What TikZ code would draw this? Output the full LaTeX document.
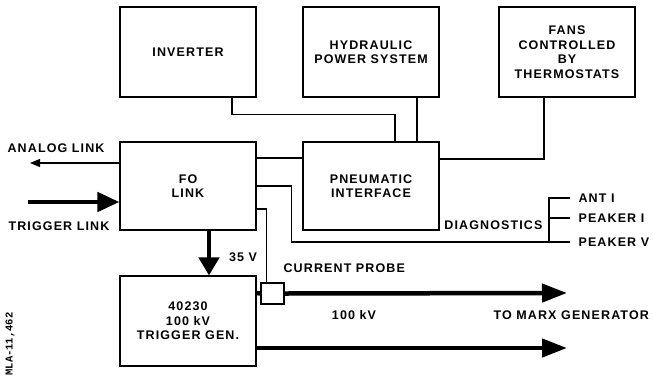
\documentclass[tikz,border=0pt]{standalone}
\usepackage{fontspec}
\setmainfont{Liberation Sans}[LetterSpace=9]
\setmonofont{Liberation Mono}
\usetikzlibrary{arrows.meta}

\tikzset{
	block/.style={draw, rectangle, minimum width=136pt, minimum height=90pt, align=center, font=\bfseries\fontsize{12.5}{14.5}\selectfont},
	beschr/.style={inner sep=0pt, font=\bfseries\fontsize{12.5}{14.5}\selectfont},
	dick/.style={line width=4.5pt},
}

\begin{document}
\begin{tikzpicture}[x=1pt, y=-1pt, line width=1.1pt]
	\useasboundingbox (0,0) rectangle (654,376);
	
	% obere Reihe
	\node (inv) [block] at (188,52) {INVERTER};
	\node (hyd) [block] at (371,52) {HYDRAULIC\\POWER SYSTEM};
	\node (fans) [block] at (567,52) {FANS\\CONTROLLED\\BY\\THERMOSTATS};
	
	% mittlere Reihe
	\node (fo) [block, minimum height=88pt] at (188,186) {FO\\LINK};
	\node (pneu) [block, minimum height=88pt] at (371,186) {PNEUMATIC\\INTERFACE};
	
	% Trigger-Generator und Stromsonde
	\node (gen) [block] at (188,321) {40230\\100 kV\\TRIGGER GEN.};
	\node (probe) [draw, rectangle, minimum width=23pt, minimum height=21pt, inner sep=0pt] at (272.5,293.5) {};
	
	% Verbindungen oben
	\draw ([xshift=44pt]inv.south) |- ++(0,17) -| ([xshift=24pt]pneu.north);
	\draw ([xshift=46pt]hyd.south) -- ([xshift=46pt]pneu.north);
	\draw ([xshift=-23pt]fans.south) |- ([yshift=27pt]pneu.east);
	\draw ([yshift=28pt]fo.east) -- ([yshift=28pt]pneu.west);
	
	% Links
	\coordinate (analog) at (30,163);
	\coordinate (trig) at (28,202);
	\node (analogtxt) [beschr, anchor=west] at (7,148) {ANALOG LINK};
	\node (trigtxt) [beschr, anchor=west] at (8,226) {TRIGGER LINK};
	\draw[-{Triangle[length=10pt,width=8pt]}] ([yshift=23pt]fo.west) -- (analog);
	\draw[dick, -{Triangle[length=22pt,width=19pt]}] (trig) -- ([yshift=-16pt]fo.west);
	
	% Diagnose
	\coordinate (ant) at (570,198);
	\coordinate (peaki) at (570,218);
	\coordinate (peakv) at (570,242);
	\coordinate (klammer) at (549,242);
	\node (diagtxt) [beschr, anchor=east] at (543,225) {DIAGNOSTICS};
	\node (anttxt) [beschr, anchor=west] at (578,198) {ANT I};
	\node (peakitxt) [beschr, anchor=west] at (578,218) {PEAKER I};
	\node (peakvtxt) [beschr, anchor=west] at (578,242) {PEAKER V};
	\draw (fo.east) -- ++(35,0) |- (peakv);
	\draw (ant) -| (klammer);
	\draw (peaki) -- (peaki -| klammer);
	
	% 35 V und Sonde
	\node (vtxt) [beschr] at (243,257) {35 V};
	\node (probetxt) [beschr, anchor=west] at (283,268) {CURRENT PROBE};
	\draw[dick, -{Triangle[length=18pt,width=20pt]}] ([xshift=21pt]fo.south) -- ([xshift=21pt]gen.north);
	\draw ([yshift=-23pt]fo.east) -| ([xshift=-6pt]probe.north);
	
	% Ausgaenge
	\coordinate (aus1) at (567,293);
	\coordinate (aus2) at (567,348);
	\draw[dick] ([yshift=28pt]gen.east) -- (probe.west);
	\draw[dick, -{Triangle[length=25pt,width=18pt]}] (probe.east) -- (aus1);
	\draw[dick, -{Triangle[length=25pt,width=18pt]}] ([yshift=-27pt]gen.east) -- (aus2);
	\node (kvtxt) [beschr] at (354,315) {100 kV};
	\node (marxtxt) [beschr, anchor=west] at (493,315) {TO MARX GENERATOR};
	
	% Kennung
	\node (kennz) [rotate=90, inner sep=0pt, font=\ttfamily\bfseries\fontsize{10.5}{10.5}\selectfont] at (10,344) {MLA-11,462};
	
\end{tikzpicture}
\end{document}
